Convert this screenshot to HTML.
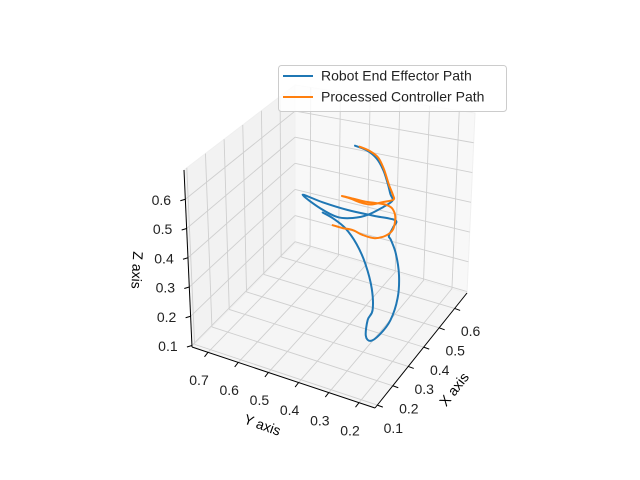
<!DOCTYPE html>
<html><head><meta charset="utf-8"><style>
body{margin:0;background:#fff;}
svg{display:block;font-family:"Liberation Sans","DejaVu Sans",sans-serif;}
</style></head><body>
<svg id="chart" width="640" height="480" viewBox="0 0 640 480" xmlns="http://www.w3.org/2000/svg">
<rect width="640" height="480" fill="#fff"/>
<g id="panes"></g><g id="grid"></g><g id="axes"></g><g id="series"></g>
<g>
<rect x="278.5" y="65.5" width="228" height="46" rx="3" fill="#fff" fill-opacity="0.8" stroke="#cccccc"/>
<line x1="283" y1="76" x2="313" y2="76" stroke="#1f77b4" stroke-width="2"/>
<text x="321" y="80.5" font-size="14" fill="#222">Robot End Effector Path</text>
<line x1="283" y1="97" x2="313" y2="97" stroke="#ff7f0e" stroke-width="2"/>
<text x="321" y="101.5" font-size="14" fill="#222">Processed Controller Path</text>
</g>
<text x="0" y="0" font-size="14" text-anchor="middle" transform="translate(455,390) rotate(-52)" dominant-baseline="middle">X axis</text>
<text x="0" y="0" font-size="14" text-anchor="middle" transform="translate(262,426) rotate(20)" dominant-baseline="middle">Y axis</text>
<text x="0" y="0" font-size="14" text-anchor="middle" transform="translate(136,270) rotate(93)" dominant-baseline="middle">Z axis</text>
</svg>
<script>
const xTicks = [0.1, 0.2, 0.3, 0.4, 0.5, 0.6];
const yTicks = [0.2, 0.3, 0.4, 0.5, 0.6, 0.7];
const zTicks = [0.1, 0.2, 0.3, 0.4, 0.5, 0.6];
const xLim = [0.085, 0.68];
const yLim = [0.147, 0.753];
const zLim = [0.095, 0.70];

const robotX = [0.35,0.35,0.35,0.35,0.35,0.35,0.35,0.35,0.35,0.35,0.35,0.35,0.35,0.35,0.35,0.35,0.35,0.35,0.35,0.35,0.35,0.35,0.35,0.35,0.35,0.35,0.35,0.35,0.35,0.35,0.35,0.35,0.35,0.35,0.35];
const robotY = [0.360,0.322,0.290,0.267,0.252,0.243,0.236,0.266,0.315,0.365,0.415,0.471,0.530,0.464,0.382,0.299,0.226,0.233,0.246,0.239,0.222,0.210,0.213,0.236,0.272,0.302,0.318,0.312,0.296,0.300,0.322,0.352,0.390,0.431,0.464];
const robotZ = [0.745,0.738,0.718,0.682,0.640,0.608,0.589,0.560,0.522,0.498,0.488,0.503,0.535,0.526,0.521,0.523,0.526,0.500,0.469,0.457,0.416,0.347,0.270,0.189,0.130,0.100,0.113,0.168,0.206,0.278,0.354,0.413,0.457,0.480,0.491];

const ctrlX = [0.35,0.35,0.35,0.35,0.35,0.35,0.35,0.35,0.35,0.35,0.35,0.35,0.35,0.35,0.35,0.35,0.35,0.35,0.35,0.35,0.35,0.35,0.35,0.35,0.35];
const ctrlY = [0.345,0.313,0.285,0.266,0.249,0.236,0.233,0.266,0.305,0.339,0.372,0.401,0.365,0.325,0.286,0.256,0.236,0.226,0.233,0.256,0.292,0.332,0.365,0.398,0.431];
const ctrlZ = [0.745,0.738,0.722,0.688,0.640,0.610,0.593,0.577,0.559,0.557,0.562,0.564,0.564,0.564,0.568,0.570,0.562,0.536,0.493,0.467,0.449,0.449,0.457,0.455,0.456];

const C = {
 '000':[375,408],'100':[467,293],'010':[192,347],'110':[295,243],
 '001':[377,222],'101':[475,113],'011':[184,170],'111':[295,85]
};
function lerp(a,b,t){return [a[0]+(b[0]-a[0])*t,a[1]+(b[1]-a[1])*t];}
function projN(u,v,w){
  const a=lerp(C['000'],C['100'],u), b=lerp(C['010'],C['110'],u);
  const c=lerp(C['001'],C['101'],u), d=lerp(C['011'],C['111'],u);
  const p0=lerp(a,b,v), p1=lerp(c,d,v);
  return lerp(p0,p1,w);
}
function nx(x){return (x-xLim[0])/(xLim[1]-xLim[0]);}
function ny(y){return (y-yLim[0])/(yLim[1]-yLim[0]);}
function nz(z){return (z-zLim[0])/(zLim[1]-zLim[0]);}
function proj(x,y,z){return projN(nx(x),ny(y),nz(z));}
const NS='http://www.w3.org/2000/svg';
function mk(tag,parent,attrs){const e=document.createElementNS(NS,tag);for(const k in attrs)e.setAttribute(k,attrs[k]);parent.appendChild(e);return e;}
function poly(pts){return pts.map(p=>p[0].toFixed(1)+','+p[1].toFixed(1)).join(' ');}

const panes=document.getElementById('panes');
let e;
e=mk('polygon',panes,{points:poly([projN(0,0,0),projN(1,0,0),projN(1,1,0),projN(0,1,0)]),fill:'#f5f5f5',stroke:'#f0f0f0'});


e=mk('polygon',panes,{points:poly([projN(0,1,0),projN(1,1,0),projN(1,1,1),projN(0,1,1)]),fill:'#f2f2f2',stroke:'#efefef'});


e=mk('polygon',panes,{points:poly([projN(1,0,0),projN(1,1,0),projN(1,1,1),projN(1,0,1)]),fill:'#f8f8f8',stroke:'#f0f0f0'});



const grid=document.getElementById('grid');
function gl(a,b,name){const l=mk('line',grid,{x1:a[0],y1:a[1],x2:b[0],y2:b[1],stroke:'#cfcfcf','stroke-width':0.9});
 
 }
xTicks.forEach(t=>{const u=nx(t);gl(projN(u,0,0),projN(u,1,0),'x-gridline');gl(projN(u,1,0),projN(u,1,1),'x-gridline');});
yTicks.forEach(t=>{const v=ny(t);gl(projN(0,v,0),projN(1,v,0),'y-gridline');gl(projN(1,v,0),projN(1,v,1),'y-gridline');});
zTicks.forEach(t=>{const w=nz(t);gl(projN(0,1,w),projN(1,1,w),'z-gridline');gl(projN(1,0,w),projN(1,1,w),'z-gridline');});

const axes=document.getElementById('axes');
function al(a,b,name){const l=mk('line',axes,{x1:a[0],y1:a[1],x2:b[0],y2:b[1],stroke:'#000','stroke-width':1});
 
 }
al(projN(0,0,0),projN(0,1,0),'y-axis-line');
al(projN(0,0,0),projN(1,0,0),'x-axis-line');
al(projN(0,1,0),projN(0,1,1),'z-axis-line');
function lbl(p,txt,name){const t=mk('text',axes,{x:p[0].toFixed(1),y:p[1].toFixed(1),'font-size':14,'text-anchor':'middle','dominant-baseline':'middle',fill:'#222'});t.textContent=txt;
 
 }
yTicks.forEach(t=>{const p=proj(xLim[0],t,zLim[0]);al(p,[p[0]-3.5,p[1]+4.5],'y-tick');lbl([p[0]-9,p[1]+29],t.toFixed(1),'y-tick-label');});
xTicks.forEach(t=>{const p=proj(t,yLim[0],zLim[0]);al(p,[p[0]+5.5,p[1]+2],'x-tick');lbl([p[0]+16,p[1]+24],t.toFixed(1),'x-tick-label');});
zTicks.forEach(t=>{const p=proj(xLim[0],yLim[1],t);al(p,[p[0]-5,p[1]+1.5],'z-tick');lbl([p[0]-24,p[1]+2],t.toFixed(1),'z-tick-label');});

const series=document.getElementById('series');
function smooth(pts){
 let d='M'+pts[0][0].toFixed(1)+','+pts[0][1].toFixed(1);
 for(let i=0;i<pts.length-1;i++){
  const p0=pts[Math.max(i-1,0)],p1=pts[i],p2=pts[i+1],p3=pts[Math.min(i+2,pts.length-1)];
  const c1=[p1[0]+(p2[0]-p0[0])/6,p1[1]+(p2[1]-p0[1])/6];
  const c2=[p2[0]-(p3[0]-p1[0])/6,p2[1]-(p3[1]-p1[1])/6];
  d+=' C'+c1[0].toFixed(1)+','+c1[1].toFixed(1)+' '+c2[0].toFixed(1)+','+c2[1].toFixed(1)+' '+p2[0].toFixed(1)+','+p2[1].toFixed(1);
 }
 return d;
}
function path(X,Y,Z,color,name){
 const pts=X.map((x,i)=>proj(x,Y[i],Z[i]));
 const l=mk('path',series,{d:smooth(pts),fill:'none',stroke:color,'stroke-width':2,'stroke-linejoin':'round','stroke-linecap':'round'});
 
 
}
path(robotX,robotY,robotZ,'#1f77b4','robot-end-effector-path');
path(ctrlX,ctrlY,ctrlZ,'#ff7f0e','processed-controller-path');
</script>
</body></html>
